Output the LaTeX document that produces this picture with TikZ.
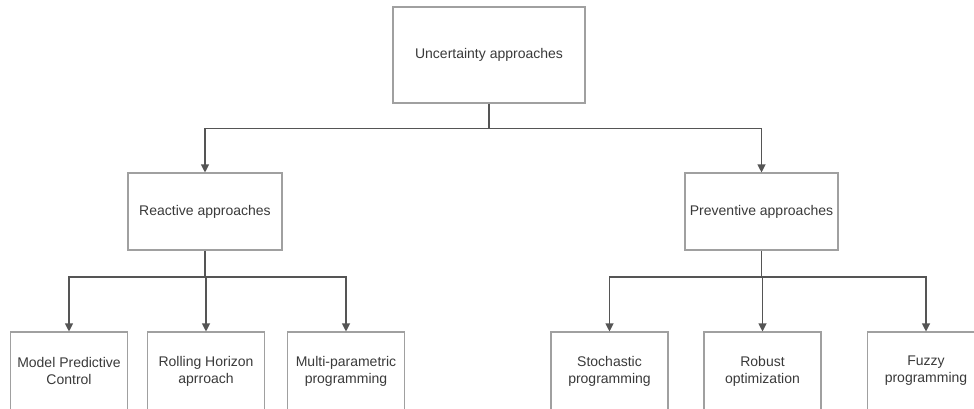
\documentclass[tikz,border=0pt]{standalone}
\usepackage{fontspec}
\setmainfont{Liberation Sans}
\usetikzlibrary{arrows.meta}
\definecolor{txt}{HTML}{3A3A3A}
\definecolor{boxc}{HTML}{A0A0A0}
\definecolor{linec}{HTML}{555555}
\begin{document}
\begin{tikzpicture}[x=1pt,y=-1pt,
  box/.style={draw=boxc,line width=1.1pt,fill=white,text=txt,align=center,
    font=\fontsize{14}{17}\selectfont,inner sep=0pt},
  conn/.style={draw=linec,line width=1.1pt},
  arr/.style={conn,-{Triangle[width=8pt,length=8pt]}}]
\useasboundingbox (0,0) rectangle (974,408);
\clip (0,0) rectangle (974,408);
\node[box,minimum width=192pt,minimum height=96pt] (top) at (489,55) {Uncertainty approaches};
\node[box,minimum width=154pt,minimum height=77pt] (reac) at (205,211.5) {Reactive approaches};
\node[box,minimum width=153pt,minimum height=77pt] (prev) at (761.5,211.5) {Preventive approaches};
\tikzset{leaf/.style={box,minimum width=117pt,minimum height=78pt}}
\node[leaf] (mpc) at (69,371) {Model Predictive\\Control};
\node[leaf] (rh) at (206,371) {Rolling Horizon\\aprroach};
\node[leaf] (mp) at (346,371) {Multi-parametric\\programming};
\node[leaf] (sp) at (609.5,371) {Stochastic\\programming};
\node[leaf] (ro) at (762.5,371) {Robust\\optimization};
\node[leaf] (fp) at (926,371) {Fuzzy\\programming};
\coordinate (j1) at (489,128.5);
\coordinate (j2) at (205,277);
\coordinate (j3) at (761.5,277);
\draw[conn] (top.south) -- (j1);
\draw[arr] (j1) -| (reac.north);
\draw[arr] (j1) -| (prev.north);
\draw[conn] (reac.south) -- (j2);
\draw[arr] (j2) -| (mpc.north);
\draw[arr] (j2) -| (rh.north);
\draw[arr] (j2) -| (mp.north);
\draw[conn] (prev.south) -- (j3);
\draw[arr] (j3) -| (sp.north);
\draw[arr] (j3) -| (ro.north);
\draw[arr] (j3) -| (fp.north);
\end{tikzpicture}
\end{document}
